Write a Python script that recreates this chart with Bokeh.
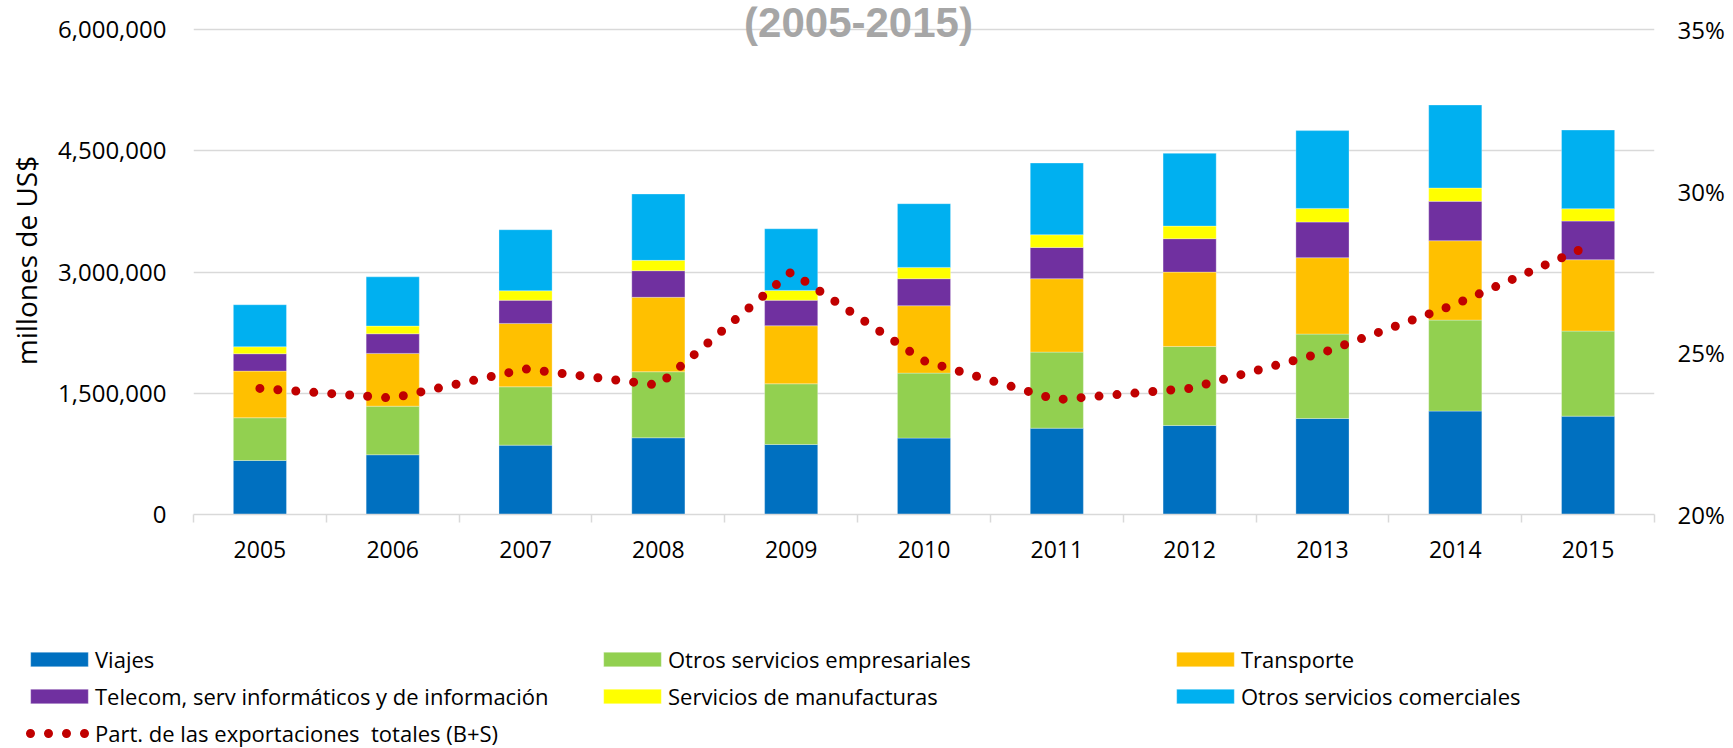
from bokeh.plotting import figure
from bokeh.models import (ColumnDataSource, Range1d, LinearAxis, FixedTicker,
                          NumeralTickFormatter, Legend, LegendItem, Label)
from bokeh.embed import file_html
from bokeh.resources import INLINE

years = ["2005", "2006", "2007", "2008", "2009", "2010", "2011", "2012", "2013", "2014", "2015"]
viajes = [668000, 739000, 858000, 949000, 866000, 945000, 1068000, 1101000, 1188000, 1279000, 1217000]
otros_emp = [529000, 601000, 722000, 817000, 751000, 804000, 941000, 978000, 1044000, 1126000, 1052000]
transporte = [577000, 653000, 784000, 921000, 718000, 834000, 908000, 920000, 945000, 982000, 883000]
telecom = [215000, 243000, 286000, 329000, 315000, 334000, 387000, 413000, 441000, 487000, 478000]
manuf = [86000, 95000, 118000, 128000, 122000, 140000, 157000, 156000, 169000, 165000, 153000]
otros_com = [520000, 609000, 755000, 821000, 763000, 788000, 887000, 900000, 962000, 1027000, 973000]
part = [0.239, 0.236, 0.245, 0.240, 0.275, 0.2475, 0.2355, 0.239, 0.250, 0.265, 0.283]

series = ["viajes", "otros_emp", "transporte", "telecom", "manuf", "otros_com"]
labels = ["Viajes", "Otros servicios empresariales", "Transporte",
          "Telecom, serv informáticos y de información", "Servicios de manufacturas",
          "Otros servicios comerciales"]
colors = ["#0070C0", "#92D050", "#FFC000", "#7030A0", "#FFFF00", "#00B0F0"]
line_color = "#C00000"
line_label = "Part. de las exportaciones  totales (B+S)"
title_text = "(2005-2015)"

left_ticks = [0, 1500000, 3000000, 4500000, 6000000]
right_ticks = [0.20, 0.25, 0.30, 0.35]

xs = list(range(len(years)))
src = ColumnDataSource(dict(x=xs, viajes=viajes, otros_emp=otros_emp, transporte=transporte,
                            telecom=telecom, manuf=manuf, otros_com=otros_com, part=part))

FONT = "Open Sans"
W = 1733
TOP = 6               # px above the frame
TOP_PAD = 23          # px between frame top and the highest gridline
GRID_H = 485          # px from 0 to the highest gridline
frac = (GRID_H + TOP_PAD) / GRID_H

p = figure(width=W, height=598,
           x_range=Range1d(-0.5, len(years) - 0.5),
           y_range=Range1d(left_ticks[0], left_ticks[-1] * frac),
           output_backend="svg", toolbar_location=None,
           min_border_left=193, min_border_right=79, min_border_top=TOP, min_border_bottom=84)
p.outline_line_color = None
p.background_fill_color = "white"
p.border_fill_color = "white"

bars = p.vbar_stack(series, x="x", width=0.4, source=src, fill_color=colors,
                    line_color="white", line_width=0.6, line_alpha=0.5)

p.extra_y_ranges = {"pct": Range1d(right_ticks[0],
                                   right_ticks[0] + (right_ticks[-1] - right_ticks[0]) * frac)}
ln = p.line(x="x", y="part", source=src, y_range_name="pct", line_color=line_color,
            line_width=9, line_dash="0 18", line_cap="round")

# grid
p.xgrid.visible = False
p.ygrid.ticker = FixedTicker(ticks=left_ticks)
p.ygrid.grid_line_color = "#D9D9D9"
p.ygrid.grid_line_width = 1.5

# left axis
ya = p.yaxis[0]
ya.ticker = FixedTicker(ticks=left_ticks)
ya.formatter = NumeralTickFormatter(format="0,0")
ya.axis_line_color = None
ya.major_tick_line_color = None
ya.minor_tick_line_color = None
ya.major_tick_out = 0
ya.minor_tick_out = 0
ya.major_label_standoff = 27
ya.major_label_text_font = FONT
ya.major_label_text_font_size = "24px"
ya.major_label_text_color = "black"
ya.axis_label = "millones de US$"
ya.axis_label_text_font = FONT
ya.axis_label_text_font_size = "28px"
ya.axis_label_text_font_style = "normal"
ya.axis_label_text_color = "black"
ya.axis_label_standoff = 10

# x axis
xa = p.xaxis[0]
xa.ticker = FixedTicker(ticks=xs, minor_ticks=[i - 0.5 for i in range(len(years) + 1)])
xa.major_label_overrides = {i: y for i, y in enumerate(years)}
xa.axis_line_color = "#D9D9D9"
xa.axis_line_width = 1.5
xa.major_tick_line_color = None
xa.minor_tick_line_color = "#D9D9D9"
xa.minor_tick_line_width = 1.5
xa.minor_tick_in = 0
xa.minor_tick_out = 8
xa.major_label_standoff = 18
xa.major_label_text_font = FONT
xa.major_label_text_font_size = "23px"
xa.major_label_text_color = "black"

# right axis
ra = LinearAxis(y_range_name="pct", ticker=FixedTicker(ticks=right_ticks),
                formatter=NumeralTickFormatter(format="0%"))
ra.axis_line_color = None
ra.major_tick_line_color = None
ra.minor_tick_line_color = None
ra.major_tick_out = 0
ra.minor_tick_out = 0
ra.major_label_standoff = 23
ra.axis_label_standoff = 0
ra.major_label_text_font = FONT
ra.major_label_text_font_size = "24px"
ra.major_label_text_color = "black"
p.add_layout(ra, "right")

# title (partially visible in the original); y measured up from the frame bottom
title = Label(x=665, y=GRID_H + TOP_PAD + TOP - 22, x_units="screen", y_units="screen",
              text=title_text, text_align="center", text_baseline="middle",
              text_font="Liberation Sans", text_font_size="42px", text_font_style="bold",
              text_color="#A6A6A6")
p.add_layout(title)

# legend panel below the chart (separate root so its frame spans the full width)
lg = figure(width=W, height=150, x_range=Range1d(0, 1), y_range=Range1d(0, 1),
            output_backend="svg", toolbar_location=None,
            x_axis_location=None, y_axis_location=None, min_border=0)
lg.outline_line_color = None
lg.grid.visible = False
nan = float("nan")
dummy = [lg.vbar(x=[nan], top=[nan], width=0.4, fill_color=c, line_color="white",
                 line_width=0.6, line_alpha=0.5) for c in colors]
dummy_ln = lg.line(x=[nan], y=[nan], line_color=line_color, line_width=9,
                   line_dash="0 18", line_dash_offset=11, line_cap="round")

items = [LegendItem(label=lab, renderers=[r]) for lab, r in zip(labels, dummy)]
items.append(LegendItem(label=line_label, renderers=[dummy_ln]))
legend = Legend(items=items, location=(23, 0), orientation="horizontal", ncols=3,
                glyph_width=72, glyph_height=18, label_standoff=0, label_width=494,
                spacing=7, padding=0, margin=0, border_line_color=None,
                background_fill_alpha=0, label_text_font=FONT, label_text_font_size="22px",
                label_text_color="black")
lg.add_layout(legend)

open("out.html", "w").write(file_html([p, lg], INLINE, title="chart"))
